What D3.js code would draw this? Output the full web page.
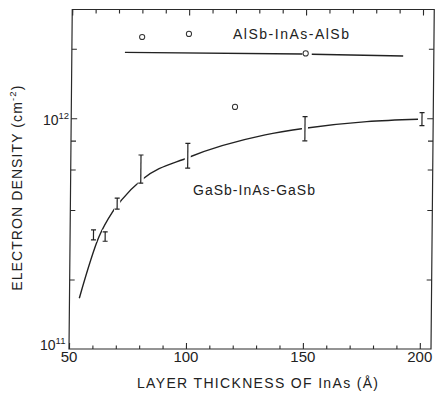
<!doctype html>
<html lang="en">
<head>
<meta charset="utf-8">
<style>
  body { margin: 0; background: #fff; }
  text { font-family: "Liberation Sans", Helvetica, Arial, sans-serif; fill: #222; }
  .ax path { display: none; }
  .ax line { stroke: #2a2a2a; stroke-width: 1.1; }
</style>
</head>
<body>
<div id="chart"></div>
<script src="https://cdn.jsdelivr.net/npm/d3@7/dist/d3.min.js"></script>
<script>
// x ticks (layer thickness, angstrom)
var xMajor = [50, 100, 150, 200];
var xMinor = [60, 70, 80, 90, 110, 120, 130, 140, 160, 170, 180, 190];
// y ticks (electron density, cm^-2)
var yMajor = [1e11, 1e12];
var yMinor = [2e11, 4e11, 6e11, 8e11, 2e12];

// AlSb-InAs-AlSb samples (open circles)
var alsbX = [80, 100, 120, 150];
var alsbN = [2.25e12, 2.32e12, 1.12e12, 1.91e12];
// AlSb fit line (null = break around the circle at 150)
var alsbFitX = [72.7, 148.6, null, 152.6, 191.7];
var alsbFitN = [1.93e12, 1.90e12, null, 1.895e12, 1.86e12];

// GaSb-InAs-GaSb error bars
var gasbX  = [60, 65, 70, 80, 100, 150, 200];
var gasbLo = [2.97e11, 2.93e11, 4.04e11, 5.23e11, 6.08e11, 7.98e11, 9.29e11];
var gasbHi = [3.28e11, 3.22e11, 4.51e11, 6.93e11, 7.79e11, 1.016e12, 1.057e12];
// GaSb curve
var curveX = [54.2, 62.4, 68.0, 71.9, 80.4, 100.2, 133, 150, 176.4, 198.3];
var curveN = [1.66e11, 3.07e11, 3.92e11, 4.43e11, 5.41e11, 6.76e11, 8.47e11, 9.05e11, 9.67e11, 9.9e11];

var width = 438, height = 393;
var mLeft = 69, mRight = 431, mTop = 9.5, mBottom = 349;

var svg = d3.select("#chart").append("svg")
    .attr("width", width).attr("height", height);
svg.append("rect").attr("width", width).attr("height", height).attr("fill", "#fff");

var x = d3.scaleLinear().domain([50, 204.8]).range([mLeft, mRight]);
var y = d3.scaleLog().domain([1e11, 2.96e12]).range([mBottom, mTop]);

// the scanned frame leans slightly to the right
var g = svg.append("g")
    .attr("transform", "translate(0," + mBottom + ") skewX(-0.55) translate(0," + (-mBottom) + ")");

// inward ticks
g.append("g").attr("class", "ax").attr("transform", "translate(0," + mBottom + ")")
  .call(d3.axisBottom(x).tickValues(xMinor).tickSize(-3.5).tickFormat(""));
g.append("g").attr("class", "ax").attr("transform", "translate(0," + mBottom + ")")
  .call(d3.axisBottom(x).tickValues(xMajor).tickSize(-6).tickFormat(""));
g.append("g").attr("class", "ax").attr("transform", "translate(0," + mTop + ")")
  .call(d3.axisTop(x).tickValues(xMinor).tickSize(-4).tickFormat(""));
g.append("g").attr("class", "ax").attr("transform", "translate(0," + mTop + ")")
  .call(d3.axisTop(x).tickValues(xMajor).tickSize(-6).tickFormat(""));
g.append("g").attr("class", "ax").attr("transform", "translate(" + mLeft + ",0)")
  .call(d3.axisLeft(y).tickValues(yMinor).tickSize(-5).tickFormat(""));
g.append("g").attr("class", "ax").attr("transform", "translate(" + mLeft + ",0)")
  .call(d3.axisLeft(y).tickValues([1e12]).tickSize(-6).tickFormat(""));
g.append("g").attr("class", "ax").attr("transform", "translate(" + mRight + ",0)")
  .call(d3.axisRight(y).tickValues(yMinor).tickSize(-5).tickFormat(""));
g.append("g").attr("class", "ax").attr("transform", "translate(" + mRight + ",0)")
  .call(d3.axisRight(y).tickValues([1e12]).tickSize(-6).tickFormat(""));

// frame
g.append("rect")
  .attr("x", mLeft).attr("y", mTop)
  .attr("width", mRight - mLeft).attr("height", mBottom - mTop)
  .attr("fill", "none").attr("stroke", "#2a2a2a").attr("stroke-width", 1.2);

// GaSb curve
var line = d3.line()
    .defined(function(d) { return d[0] != null; })
    .x(function(d) { return x(d[0]); })
    .y(function(d) { return y(d[1]); });

g.append("path")
  .datum(curveX.map(function(v, i) { return [v, curveN[i]]; }))
  .attr("d", line.curve(d3.curveMonotoneX))
  .attr("fill", "none").attr("stroke", "#222").attr("stroke-width", 1.4);

// error bars, with a white halo so the curve breaks at each bar
var bars = g.selectAll(".bar").data(gasbX).enter().append("g").attr("class", "bar");
bars.append("line")
  .attr("x1", function(d) { return x(d); }).attr("x2", function(d) { return x(d); })
  .attr("y1", function(d, i) { return y(gasbHi[i]) - 2; })
  .attr("y2", function(d, i) { return y(gasbLo[i]) + 2; })
  .attr("stroke", "#fff").attr("stroke-width", 6);
bars.append("line")
  .attr("x1", function(d) { return x(d); }).attr("x2", function(d) { return x(d); })
  .attr("y1", function(d, i) { return y(gasbHi[i]); })
  .attr("y2", function(d, i) { return y(gasbLo[i]); })
  .attr("stroke", "#222").attr("stroke-width", 1.2);
[gasbHi, gasbLo].forEach(function(arr) {
  bars.append("line")
    .attr("x1", function(d) { return x(d) - 2.5; }).attr("x2", function(d) { return x(d) + 2.5; })
    .attr("y1", function(d, i) { return y(arr[i]); })
    .attr("y2", function(d, i) { return y(arr[i]); })
    .attr("stroke", "#222").attr("stroke-width", 1.2);
});

// AlSb fit line and circles
g.append("path")
  .datum(alsbFitX.map(function(v, i) { return [v, alsbFitN[i]]; }))
  .attr("d", line.curve(d3.curveLinear))
  .attr("fill", "none").attr("stroke", "#222").attr("stroke-width", 1.4);

g.selectAll(".pt").data(alsbX).enter().append("circle")
  .attr("class", "pt")
  .attr("cx", function(d) { return x(d); })
  .attr("cy", function(d, i) { return y(alsbN[i]); })
  .attr("r", 2.6)
  .attr("fill", "#fff").attr("stroke", "#333").attr("stroke-width", 1);

// labels
svg.append("text").attr("x", 233).attr("y", 38.5)
  .attr("font-size", 14).attr("textLength", 116).text("AlSb-InAs-AlSb");
svg.append("text").attr("x", 193).attr("y", 194.5)
  .attr("font-size", 14).attr("textLength", 122).text("GaSb-InAs-GaSb");

// x tick labels
svg.selectAll(".xl").data(xMajor).enter().append("text")
  .attr("class", "xl")
  .attr("x", function(d) { return x(d); }).attr("y", 361.5)
  .attr("text-anchor", "middle").attr("font-size", 15)
  .text(function(d) { return d; });

// y tick labels (10 with superscript exponent)
var yl = svg.selectAll(".yl").data(yMajor).enter().append("text")
  .attr("class", "yl")
  .attr("x", function(d) { return d === 1e12 ? 43 : 40; })
  .attr("y", function(d) { return d === 1e12 ? y(d) + 6.7 : y(d) + 0.5; })
  .attr("font-size", 14);
yl.append("tspan").text("10");
yl.append("tspan").attr("font-size", 9.5).attr("dy", -6)
  .text(function(d) { return Math.round(Math.log10(d)); });

// axis titles
svg.append("text").attr("x", 137).attr("y", 387.5)
  .attr("font-size", 14).attr("textLength", 241).text("LAYER THICKNESS OF InAs (Å)");

var yt = svg.append("text")
  .attr("transform", "translate(21.7,187.7) rotate(-90)")
  .attr("text-anchor", "middle").attr("font-size", 14)
  .attr("letter-spacing", 1.1);
yt.append("tspan").text("ELECTRON DENSITY (cm");
yt.append("tspan").attr("font-size", 9.5).attr("dy", -6).text("-2");
yt.append("tspan").attr("dy", 6).text(")");
</script>
</body>
</html>
